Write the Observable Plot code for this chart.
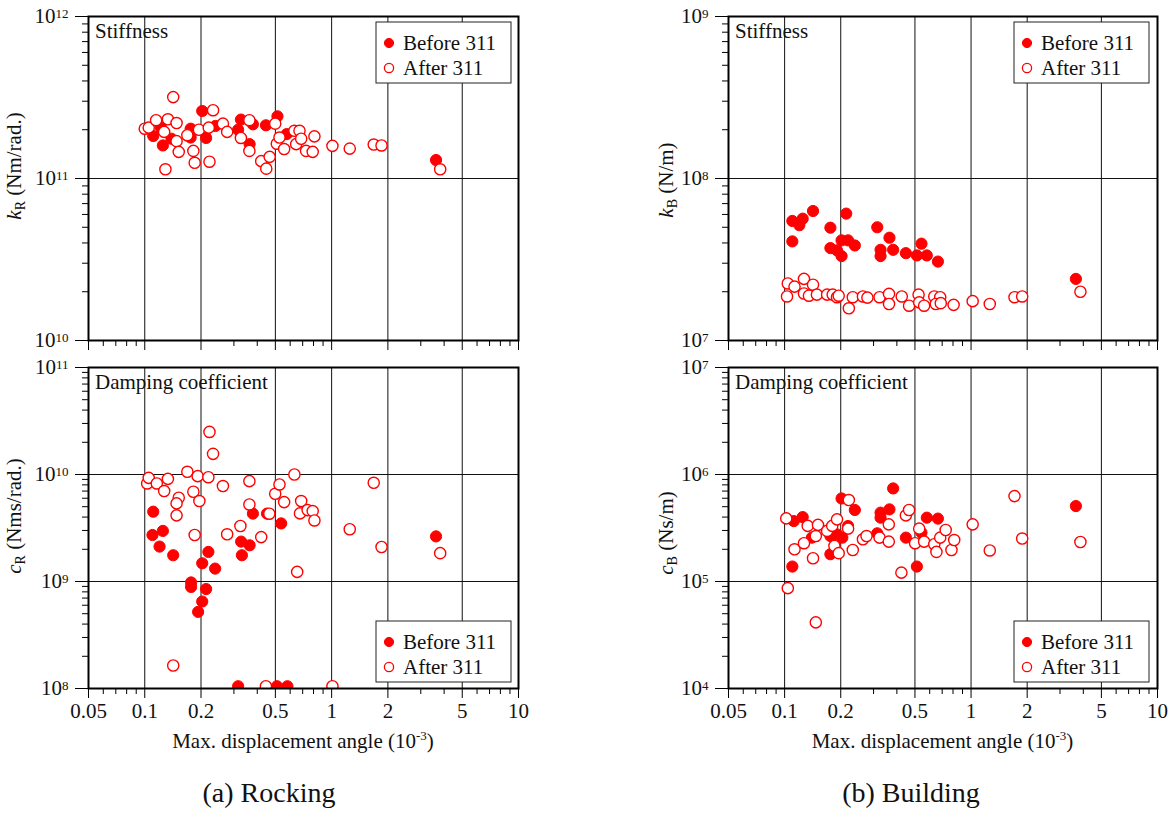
<!DOCTYPE html>
<html><head><meta charset="utf-8">
<script src="https://cdn.jsdelivr.net/npm/d3@7"></script>
<script src="https://cdn.jsdelivr.net/npm/@observablehq/plot@0.6"></script>
<style>
body{margin:0;background:#fff;}
#root{position:relative;width:1174px;height:813px;overflow:hidden;}
#root svg{position:absolute;overflow:visible;background:transparent;max-width:none;font-family:"Liberation Serif","DejaVu Serif",serif !important;}
#root svg text{font-family:"Liberation Serif","DejaVu Serif",serif !important;}
</style></head><body><div id="root"></div>
<script>
// ---------- data: [max displacement angle (1e-3), value] ----------
const kR_before = [[0.203,2.61e11],[0.125,1.60e11],[0.111,1.83e11],[0.122,2.06e11],[0.176,2.03e11],[0.176,1.79e11],[0.213,1.78e11],[0.239,2.11e11],[0.327,2.31e11],[0.316,2.0e11],[0.364,1.63e11],[0.379,2.16e11],[0.445,2.13e11],[0.513,2.42e11],[0.575,1.88e11],[3.62,1.30e11],[0.139,1.76e11]];
const kR_after = [[0.100,2.03e11],[0.105,2.06e11],[0.115,2.29e11],[0.127,1.94e11],[0.133,2.32e11],[0.148,2.20e11],[0.142,3.18e11],[0.129,1.14e11],[0.148,1.70e11],[0.152,1.46e11],[0.169,1.85e11],[0.182,1.48e11],[0.185,1.25e11],[0.195,2.00e11],[0.220,2.06e11],[0.232,2.64e11],[0.222,1.27e11],[0.262,2.18e11],[0.276,1.94e11],[0.327,1.78e11],[0.363,2.29e11],[0.363,1.48e11],[0.420,1.28e11],[0.447,1.15e11],[0.466,1.36e11],[0.499,2.18e11],[0.509,1.64e11],[0.526,1.79e11],[0.557,1.52e11],[0.632,1.97e11],[0.673,1.97e11],[0.646,1.63e11],[0.687,1.76e11],[0.730,1.48e11],[0.792,1.46e11],[0.809,1.82e11],[1.01,1.59e11],[1.25,1.53e11],[1.68,1.62e11],[1.85,1.60e11],[3.81,1.14e11]];
const cR_before = [[0.111,4.49e9],[0.110,2.72e9],[0.125,2.97e9],[0.120,2.12e9],[0.142,1.76e9],[0.177,9.8e8],[0.177,8.9e8],[0.203,1.48e9],[0.219,1.89e9],[0.238,1.32e9],[0.213,8.5e8],[0.203,6.5e8],[0.193,5.2e8],[0.328,2.36e9],[0.331,1.76e9],[0.364,2.18e9],[0.379,4.31e9],[0.451,4.31e9],[0.537,3.49e9],[3.62,2.64e9],[0.316,1.05e8],[0.510,1.05e8],[0.580,1.05e8]];
const cR_after = [[0.103,8.25e9],[0.105,9.3e9],[0.116,8.25e9],[0.127,7.0e9],[0.133,9.1e9],[0.152,6.07e9],[0.148,5.37e9],[0.148,4.15e9],[0.169,1.06e10],[0.182,6.9e9],[0.192,9.65e9],[0.196,5.65e9],[0.185,2.72e9],[0.219,9.44e9],[0.222,2.5e10],[0.232,1.56e10],[0.262,7.8e9],[0.276,2.76e9],[0.325,3.3e9],[0.363,8.67e9],[0.363,5.25e9],[0.420,2.6e9],[0.464,4.3e9],[0.499,6.6e9],[0.526,8.07e9],[0.557,5.52e9],[0.632,1.0e10],[0.687,5.65e9],[0.677,4.33e9],[0.744,4.65e9],[0.792,4.55e9],[0.809,3.72e9],[0.654,1.23e9],[1.25,3.08e9],[1.68,8.36e9],[1.85,2.1e9],[3.81,1.84e9],[0.142,1.64e8],[0.445,1.05e8],[1.01,1.05e8]];
const kB_before = [[0.110,4.09e7],[0.110,5.47e7],[0.120,5.15e7],[0.125,5.65e7],[0.142,6.3e7],[0.176,4.97e7],[0.176,3.72e7],[0.191,3.6e7],[0.202,3.32e7],[0.202,4.15e7],[0.214,6.07e7],[0.219,4.15e7],[0.238,3.86e7],[0.314,5.0e7],[0.327,3.63e7],[0.327,3.32e7],[0.365,4.31e7],[0.382,3.63e7],[0.447,3.46e7],[0.512,3.35e7],[0.542,3.96e7],[0.579,3.35e7],[0.664,3.07e7],[3.65,2.40e7]];
const kB_after = [[0.103,1.87e7],[0.104,2.25e7],[0.113,2.15e7],[0.127,2.40e7],[0.127,1.95e7],[0.135,1.89e7],[0.142,2.21e7],[0.149,1.92e7],[0.169,1.92e7],[0.181,1.92e7],[0.191,1.85e7],[0.195,1.89e7],[0.221,1.58e7],[0.232,1.85e7],[0.263,1.87e7],[0.278,1.84e7],[0.323,1.85e7],[0.363,1.94e7],[0.363,1.68e7],[0.425,1.87e7],[0.465,1.64e7],[0.523,1.92e7],[0.527,1.72e7],[0.560,1.64e7],[0.635,1.87e7],[0.683,1.85e7],[0.647,1.68e7],[0.688,1.70e7],[0.806,1.66e7],[1.02,1.75e7],[1.26,1.68e7],[1.71,1.85e7],[1.88,1.87e7],[3.86,2.0e7]];
const cB_before = [[0.110,1.38e5],[0.112,3.67e5],[0.125,4.0e5],[0.140,2.57e5],[0.176,1.80e5],[0.176,2.66e5],[0.191,2.76e5],[0.202,5.97e5],[0.204,2.57e5],[0.238,4.66e5],[0.219,3.3e5],[0.314,2.82e5],[0.327,4.40e5],[0.327,3.95e5],[0.365,4.72e5],[0.382,7.41e5],[0.447,2.57e5],[0.512,1.38e5],[0.542,2.86e5],[0.579,3.95e5],[0.664,3.87e5],[3.65,5.07e5]];
const cB_after = [[0.102,3.89e5],[0.104,8.67e4],[0.113,2.0e5],[0.127,2.28e5],[0.133,3.31e5],[0.142,1.65e5],[0.147,4.15e4],[0.151,3.38e5],[0.147,2.66e5],[0.169,2.97e5],[0.180,3.31e5],[0.185,2.15e5],[0.191,3.81e5],[0.195,1.84e5],[0.221,5.77e5],[0.219,3.12e5],[0.232,1.97e5],[0.263,2.48e5],[0.275,2.66e5],[0.323,2.57e5],[0.362,3.42e5],[0.362,2.36e5],[0.423,1.21e5],[0.447,4.15e5],[0.465,4.66e5],[0.501,2.28e5],[0.527,3.12e5],[0.560,2.36e5],[0.635,2.23e5],[0.652,1.89e5],[0.683,2.57e5],[0.731,3.03e5],[0.785,1.97e5],[0.812,2.44e5],[1.02,3.42e5],[1.26,1.95e5],[1.71,6.28e5],[1.88,2.52e5],[3.86,2.34e5]];

// ---------- ticks / labels ----------
const xTicks = [0.05,0.1,0.2,0.5,1,2,5,10];
const xTickLabels = ["0.05","0.1","0.2","0.5","1","2","5","10"];
const xMinorTicks = [0.06,0.07,0.08,0.09,0.3,0.4,0.6,0.7,0.8,0.9,3,4,6,7,8,9];
const xGridLines = [0.1,0.2,0.5,1,2,5];
const seriesNames = ["Before 311","After 311"];
const panelTitles = ["Stiffness","Damping coefficient"];
const xTitle = ["Max. displacement angle (10", "-3", ")"];
const captions = ["(a) Rocking","(b) Building"];

const FONT = '"Liberation Serif", "DejaVu Serif", serif';
const RED = "#ff0000";
const FS = 21;

function decades(lo, hi){ const t=[]; for(let e=lo;e<=hi;e++) t.push(Math.pow(10,e)); return t; }
function minors(lo, hi){ const t=[]; for(let e=lo;e<hi;e++) for(let m=2;m<=9;m++) t.push(m*Math.pow(10,e)); return t; }

const root = document.getElementById("root");

function makePanel(o){
  const yMajor = decades(o.e0, o.e1);
  const xLab = xTicks.map((v, i) => ({v, t: xTickLabels[i]}));
  const svg = Plot.plot({
    width: 587, height: o.h,
    marginLeft: o.mL, marginRight: o.mR, marginTop: o.mT, marginBottom: o.mB,
    style: {fontFamily: FONT, fontSize: FS+"px", background: "transparent", overflow: "visible", color: "#000"},
    x: {type: "log", domain: [0.05, 10]},
    y: {type: "log", domain: [yMajor[0], yMajor[yMajor.length-1]]},
    marks: [
      Plot.gridX(xGridLines, {stroke: "#111", strokeOpacity: 1, strokeWidth: 1}),
      Plot.gridY(yMajor.slice(1, -1), {stroke: "#111", strokeOpacity: 1, strokeWidth: 1}),
      Plot.axisX(xMinorTicks, {tickSize: 6, tickFormat: () => "", label: null, strokeWidth: 1}),
      Plot.axisX(xTicks, {tickSize: 10, tickFormat: () => "", label: null, strokeWidth: 1}),
      o.xLabels ? Plot.text(xLab, {x: "v", text: "t", frameAnchor: "bottom", dy: 29, fontSize: FS, fill: "#111"}) : null,
      Plot.axisY(minors(o.e0, o.e1), {tickSize: 6, tickFormat: () => "", label: null, strokeWidth: 1}),
      Plot.axisY(yMajor, {tickSize: 13, tickPadding: 7, label: null, strokeWidth: 1, fontSize: FS, fill: "#111",
        tickFormat: d => "10^" + Math.round(Math.log10(d))}),
      Plot.dot(o.before, {x: d => d[0], y: d => d[1], r: 5.6, fill: RED, stroke: RED, strokeWidth: 1, clip: true}),
      Plot.dot(o.after, {x: d => d[0], y: d => d[1], r: 5.6, fill: "white", stroke: RED, strokeWidth: 1.4, clip: true}),
      Plot.frame({stroke: "#000", strokeWidth: 2})
    ]
  });
  svg.style.left = o.left + "px";
  svg.style.top = o.top + "px";
  svg.style.position = "absolute";
  root.appendChild(svg);
  const s = d3.select(svg);

  // superscript tick labels
  s.selectAll("text").each(function(){
    const t = this.textContent;
    if (!/^10\^-?\d+$/.test(t)) return;
    const [b, e] = t.split("^");
    const sel = d3.select(this);
    sel.attr("font-size", FS).style("font-size", FS + "px");
    sel.text(null);
    sel.append("tspan").text(b);
    sel.append("tspan").attr("dy", -5).style("font-size", "13px").text(e);
  });

  const txt = s.append("g").style("font-size", FS+"px").attr("fill", "#111").attr("text-anchor", "start");
  // panel title
  txt.append("text").attr("x", o.mL + 7).attr("y", o.mT + 22).attr("text-anchor", "start").text(o.title);

  // y label
  const yl = txt.append("text").attr("transform", `translate(${o.ylx},${o.yly}) rotate(-90)`)
    .attr("text-anchor", "middle").style("white-space", "pre");
  yl.append("tspan").attr("font-style", "italic").text(o.ylab[0]);
  yl.append("tspan").attr("dy", 4).style("font-size", "14px").text(o.ylab[1]);
  yl.append("tspan").attr("dy", -4).text(o.ylab[2]);

  // legend
  const L = txt.append("g").attr("transform", `translate(${o.legX},${o.legY})`);
  L.append("rect").attr("x", 0).attr("y", 0).attr("width", 135).attr("height", 61)
    .attr("fill", "white").attr("stroke", "#222").attr("stroke-width", 1);
  L.append("circle").attr("cx", 13).attr("cy", 21).attr("r", 4.6).attr("fill", RED).attr("stroke", RED);
  L.append("circle").attr("cx", 13).attr("cy", 46).attr("r", 4.6).attr("fill", "white").attr("stroke", RED).attr("stroke-width", 1.3);
  L.append("text").attr("x", 27).attr("y", 28).attr("text-anchor", "start").text(seriesNames[0]);
  L.append("text").attr("x", 27).attr("y", 53).attr("text-anchor", "start").text(seriesNames[1]);

  if (o.xLabels) {
    const cx = o.mL + (587 - o.mL - o.mR) / 2;
    const xt = txt.append("text").attr("x", cx).attr("y", o.h - o.mB + 60)
      .attr("text-anchor", "middle").style("white-space", "pre");
    xt.append("tspan").text(xTitle[0]);
    xt.append("tspan").attr("dy", -8).style("font-size", "13px").text(xTitle[1]);
    xt.append("tspan").attr("dy", 8).text(xTitle[2]);
    txt.append("text").attr("x", o.capX).attr("y", o.h - o.mB + 114)
      .attr("text-anchor", "middle").style("font-size", "28px").text(o.caption);
  }
}

// top-left: k_R
makePanel({left: 0, top: 0, h: 360, mL: 88, mR: 69, mT: 16, mB: 20, e0: 10, e1: 12,
  before: kR_before, after: kR_after, xLabels: false, title: panelTitles[0],
  ylab: ["k", "R", " (Nm/rad.)"], ylx: 21, yly: 166, legX: 376, legY: 22});
// bottom-left: c_R
makePanel({left: 0, top: 350, h: 463, mL: 88, mR: 69, mT: 17, mB: 125, e0: 8, e1: 11,
  before: cR_before, after: cR_after, xLabels: true, title: panelTitles[1],
  ylab: ["c", "R", " (Nms/rad.)"], ylx: 21, yly: 166, legX: 376, legY: 271,
  capX: 269, caption: captions[0]});
// top-right: k_B
makePanel({left: 587, top: 0, h: 360, mL: 141, mR: 17, mT: 16, mB: 20, e0: 7, e1: 9,
  before: kB_before, after: kB_after, xLabels: false, title: panelTitles[0],
  ylab: ["k", "B", " (N/m)"], ylx: 86, yly: 180, legX: 427, legY: 22});
// bottom-right: c_B
makePanel({left: 587, top: 350, h: 463, mL: 141, mR: 17, mT: 17, mB: 125, e0: 4, e1: 7,
  before: cB_before, after: cB_after, xLabels: true, title: panelTitles[1],
  ylab: ["c", "B", " (Ns/m)"], ylx: 86, yly: 183, legX: 427, legY: 271,
  capX: 324, caption: captions[1]});
</script></body></html>
